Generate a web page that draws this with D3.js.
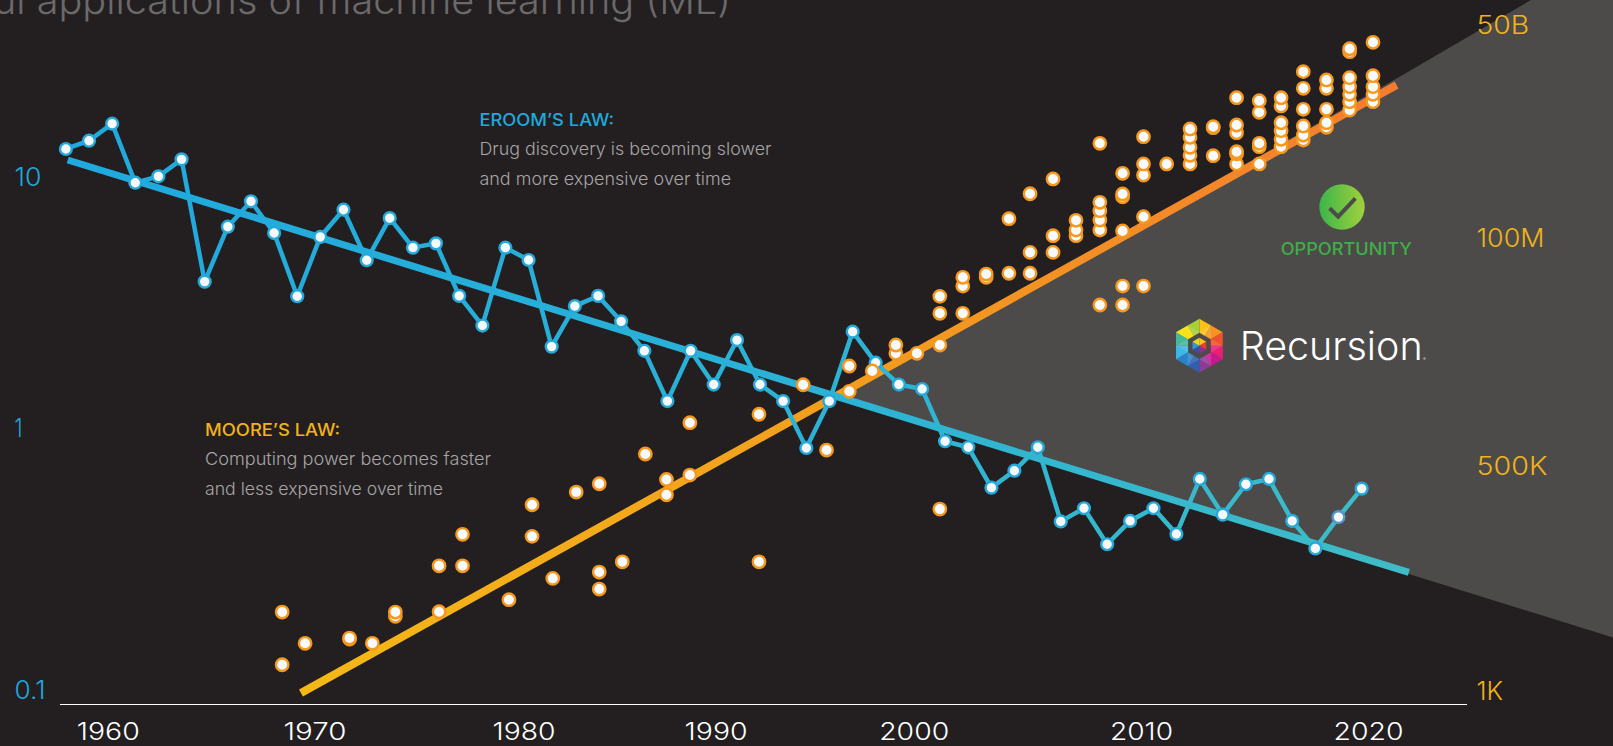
<!DOCTYPE html>
<html>
<head>
<meta charset="utf-8">
<script src="https://cdn.jsdelivr.net/npm/d3@7"></script>
<style>
html,body{margin:0;padding:0;background:#231f20;overflow:hidden}
svg{display:block}
text{font-family:"Inter","Lato","Open Sans",sans-serif}
.axis path,.axis line{display:none}
</style>
</head>
<body>
<svg id="chart" width="1613" height="746"></svg>
<script>
// ---------- tick labels ----------
const xTickYears = [1960,1970,1980,1990,2000,2010,2020];
const xTickPlaces = [107.8,314.4,523.6,715.6,913.7,1141,1368];
const eroomTicks = [10,1,0.1];
const eroomTickLabels = ["10","1","0.1"];
const mooreTicks = [1e3,5e5,1e8,5e10];
const mooreTickLabels = ["1K","500K","100M","50B"];

// ---------- Eroom's law: drugs per unit R&D spend ----------
const eroomYears = [1957.97,1959.09,1960.21,1961.33,1962.45,1963.57,1964.69,1965.81,1966.93,1968.05,1969.17,
 1970.28,1971.39,1972.50,1973.60,1974.71,1975.81,1976.92,1978.03,1979.13,
 1980.26,1981.46,1982.67,1983.88,1985.08,1986.29,1987.49,1988.70,1989.90,
 1991.08,1992.24,1993.41,1994.58,1995.74,1996.92,1998.08,1999.25,
 2000.37,2001.38,2002.40,2003.42,2004.43,2005.46,2006.47,2007.49,2008.51,2009.52,
 2010.55,2011.56,2012.59,2013.60,2014.62,2015.64,2016.66,2017.68,2018.70,2019.72];
const eroomValues = [12.93,13.95,16.31,9.49,10.06,11.76,3.83,6.34,8.00,5.98,3.35,
 5.77,7.41,4.66,6.86,5.23,5.44,3.36,2.56,5.23,
 4.67,2.11,3.06,3.36,2.66,2.03,1.28,2.03,1.49,
 2.24,1.49,1.28,0.839,1.28,2.42,1.82,1.49,
 1.43,0.890,0.844,0.592,0.687,0.844,0.440,0.494,0.360,0.442,
 0.494,0.394,0.639,0.467,0.610,0.639,0.442,0.347,0.457,0.587];
const eroomTrendYears = [1958.06,2021.80];
const eroomTrendValues = [11.69,0.281];

// ---------- Moore's law: log10 of transistor count, grouped by year column ----------
const mooreYears = [1968.44,1969.55,1971.68,1972.77,1973.87,1975.96,1977.08,1979.30,1980.44,1981.52,1982.74,1983.94,
 1985.14,1986.34,1987.44,1988.66,1992.19,1994.42,1995.60,1996.75,1997.91,1999.10,2000.14,2001.15,2002.16,2003.19,
 2004.19,2005.12,2006.13,2007.14,2008.19,2009.19,2010.11,2011.13,2012.16,2013.18,2014.21,2015.21,2016.17,2017.15,
 2018.17,2019.19,2020.22];
const mooreLogCounts = [
 [3.315,3.947],[3.572],[3.624,3.635],[3.572],[3.896,3.947],[3.951,4.502],[4.502,4.879],[4.095],[4.855,5.234],[4.351],[5.386],[4.223,4.427,5.486],
 [4.550],[5.820],[5.354,5.538],[5.590,6.136],[4.550,6.221],[6.519],[5.860],[6.453,6.708],[6.658],[6.836,6.920],[6.836],[5.182,6.920,7.240,7.411],
 [7.240,7.515,7.603],[7.603,7.636],[7.644,8.245],[7.644,7.855,8.561],[7.855,8.029,8.748],[8.029,8.101,8.224],
 [7.324,8.101,8.228,8.346,8.452,9.200],[7.324,7.515,8.089,8.523,8.558,8.820],[7.515,8.270,8.798,8.938,9.284],[8.938],
 [8.938,9.048,9.150,9.276,9.382],[9.043,9.398,9.411],[8.938,9.065,9.094,9.335,9.432,9.778],[8.938,9.157,9.200,9.593,9.740],
 [9.157,9.251,9.360,9.461,9.673,9.778],[9.242,9.305,9.420,9.631,9.897,10.108],[9.403,9.461,9.631,9.897,10.003],
 [9.622,9.727,9.821,9.918,10.032,10.361,10.399],[9.727,9.821,9.918,10.057,10.480]];
const mooreTrendYears = [1969.35,2021.26];
const mooreTrendLogCounts = [2.976,9.939];

// ---------- opportunity wedge (year, log10 count) ----------
const wedgeYears = [1996.06,2021.26,2027.18,2032,2032,2021.80];
const wedgeLogCounts = [6.405,10.02,11.016,11.016,3.54,4.403];

// ---------- text ----------
const titleText = "ul applications of machine learning (ML)";
const eroomNote = ["EROOM\u2019S LAW:","Drug discovery is becoming slower","and more expensive over time"];
const mooreNote = ["MOORE\u2019S LAW:","Computing power becomes faster","and less expensive over time"];

// ---------- scales ----------
const W = 1613, H = 746;
const x = d3.scaleLinear().domain(xTickYears).range(xTickPlaces);
const yEroom = d3.scaleLog().domain([0.1,1,10]).range([690,428,177]);
const yMoore = d3.scaleLinear().domain(mooreTicks.map(Math.log10)).range([691,466,238,25]);

const svg = d3.select("#chart");
const bg = "#231f20", wedgeFill = "#4c4b49";
svg.append("rect").attr("width",W).attr("height",H).attr("fill",bg);

const defs = svg.append("defs");
function grad(id,x1,x2,stops){
  const g = defs.append("linearGradient").attr("id",id).attr("gradientUnits","userSpaceOnUse")
    .attr("x1",x1).attr("x2",x2).attr("y1",0).attr("y2",0);
  stops.forEach(s=>g.append("stop").attr("offset",s[0]).attr("stop-color",s[1]));
}
const x0 = x(1958), x1 = x(2022);
grad("eroomGrad",x0,x1,[[0,"#1fa9de"],[0.55,"#2bb2d6"],[1,"#3fbcc6"]]);
grad("mooreGrad",x(1969),x1,[[0,"#f4b916"],[0.55,"#f39a1f"],[1,"#f47b30"]]);
grad("checkGrad",1319,1365,[[0,"#3bb54a"],[1,"#a2d03c"]]);

// title
svg.append("text").attr("x",731).attr("y",13.5).attr("text-anchor","end")
  .attr("fill","#6b6a6a").attr("font-size",38).attr("font-weight",300)
  .attr("textLength",738).attr("lengthAdjust","spacingAndGlyphs").text(titleText);

// wedge
svg.append("path").attr("fill",wedgeFill)
  .attr("d",d3.line().x(d=>x(d[0])).y(d=>yMoore(d[1]))(d3.zip(wedgeYears,wedgeLogCounts))+"Z");

// trends
const mooreLine = d3.line().x(d=>x(d[0])).y(d=>yMoore(d[1]));
const eroomLine = d3.line().x(d=>x(d[0])).y(d=>yEroom(d[1]));
svg.append("path").attr("fill","none").attr("stroke","url(#mooreGrad)").attr("stroke-width",8)
  .attr("d",mooreLine(d3.zip(mooreTrendYears,mooreTrendLogCounts)));
svg.append("path").attr("fill","none").attr("stroke","url(#eroomGrad)").attr("stroke-width",7)
  .attr("d",eroomLine(d3.zip(eroomTrendYears,eroomTrendValues)));

// eroom series
const eroomData = d3.zip(eroomYears,eroomValues);
svg.append("path").attr("fill","none").attr("stroke","url(#eroomGrad)").attr("stroke-width",4.5)
  .attr("stroke-linejoin","miter").attr("d",eroomLine(eroomData));
svg.append("g").selectAll("circle").data(eroomData).join("circle")
  .attr("cx",d=>x(d[0])).attr("cy",d=>yEroom(d[1])).attr("r",5.9)
  .attr("fill","#f4f8fa").attr("stroke",d=>d[0]>2018&&d[0]<2019?"#5595cf":"#25a9da").attr("stroke-width",2.4);

// moore points (lowest first so the upper ones overlap)
const moorePts = mooreYears.flatMap((yr,i)=>mooreLogCounts[i].map(v=>[yr,v]));
svg.append("g").selectAll("circle").data(moorePts).join("circle")
  .attr("cx",d=>x(d[0])).attr("cy",d=>yMoore(d[1])).attr("r",6.2)
  .attr("fill","#f7f9fa").attr("stroke","#f6981e").attr("stroke-width",2.4);

// baseline
svg.append("line").attr("x1",60).attr("x2",1467).attr("y1",704.5).attr("y2",704.5)
  .attr("stroke","#fff").attr("stroke-width",1.2);

// axes
const sizeText = (sel,widths)=>sel.attr("textLength",(d,i)=>widths[i]).attr("lengthAdjust","spacingAndGlyphs");
const xAxis = svg.append("g").attr("class","axis").attr("transform","translate(0,724)")
  .call(d3.axisBottom(x).tickValues(xTickYears).tickFormat(d3.format("d")).tickSize(0).tickPadding(0));
xAxis.selectAll("text").attr("fill","#fff").attr("font-size",24).attr("font-weight",300)
  .attr("y",0).attr("dy","16.2").call(sizeText,[63,63,63,63,70,63,70]);

const leftAxis = svg.append("g").attr("class","axis")
  .call(d3.axisRight(yEroom).tickValues(eroomTicks).tickFormat((d,i)=>eroomTickLabels[i]).tickSize(0).tickPadding(0));
leftAxis.selectAll("text").attr("x",14.5).attr("fill","#1ea8dd").attr("font-size",25).attr("font-weight",300)
  .attr("text-anchor","start").call(sizeText,[27,8,31]);

const rightAxis = svg.append("g").attr("class","axis")
  .call(d3.axisRight(yMoore).tickValues(mooreTicks.map(Math.log10)).tickFormat((d,i)=>mooreTickLabels[i]).tickSize(0).tickPadding(0));
rightAxis.selectAll("text").attr("x",1476.5).attr("fill","#f0b31a").attr("font-size",25).attr("font-weight",300)
  .attr("text-anchor","start").call(sizeText,[26.5,71,68,52.7]);

// notes
function note(lines,px,ys,col,widths){
  lines.forEach((t,i)=>svg.append("text").attr("x",px).attr("y",ys[i])
    .attr("fill",i?"#a6a5a5":col).attr("font-size",i?17.5:17)
    .attr("font-weight",i?300:500).attr("textLength",widths[i]).attr("lengthAdjust","spacingAndGlyphs").text(t));
}
note(eroomNote,479.4,[126,155,185],"#1fa9de",[134.6,292,251.7]);
note(mooreNote,205,[436.3,465.3,495.3],"#f2b318",[135,286,238]);

// opportunity badge
svg.append("circle").attr("cx",1342).attr("cy",207).attr("r",22.7).attr("fill","url(#checkGrad)");
svg.append("path").attr("d","M1329.6,208.3L1338.2,216.7L1355.4,198.3").attr("fill","none")
  .attr("stroke",wedgeFill).attr("stroke-width",4);
svg.append("text").attr("x",1280.7).attr("y",254.7)
  .attr("fill","#3fae49").attr("font-size",17).attr("font-weight",500)
  .attr("textLength",131.3).attr("lengthAdjust","spacingAndGlyphs").text("OPPORTUNITY");

// Recursion logo
const logo = svg.append("g").attr("transform","translate(1199.4,345.7)");
const hex = (r,k)=>{const a=(-90+60*k)*Math.PI/180;return [r*Math.cos(a),r*Math.sin(a)];};
const mid = (p,q)=>[(p[0]+q[0])/2,(p[1]+q[1])/2];
const ringCols = ["#fbc118","#f79420","#f0522f","#e81f76","#c6198f","#8e3b97","#2f5fae","#2a83c7","#3cb7e6","#45b89a","#45b54a","#a8cf38"];
const R = 27;
d3.range(6).forEach(k=>{
  const a = hex(R,k), b = hex(R,k+1), m = mid(a,b);
  logo.append("path").attr("d",d3.line()([[0,0],a,m])).attr("fill",ringCols[2*k]);
  logo.append("path").attr("d",d3.line()([[0,0],m,b])).attr("fill",ringCols[2*k+1]);
  logo.append("path").attr("d",d3.line()([mid(a,[0,0]),mid(b,[0,0]),m])).attr("fill","#fff").attr("opacity",0.12);
});
logo.append("path").attr("fill","#f7e21a").attr("d",d3.line()([[0,0],hex(R,5),mid(hex(R,5),hex(R,6))]));
logo.append("path").attr("fill",wedgeFill).attr("d",d3.line()(d3.range(6).map(k=>hex(13,k)))+"Z");
const innerCols = ["#f7c51c","#ee3a35","#8e2f8f","#3a4fa0","#2f9ad6","#e6d81f"];
d3.range(6).forEach(k=>logo.append("path").attr("fill",innerCols[k]).attr("d",d3.line()([[0,0],hex(8,k),hex(8,k+1)])));
svg.append("text").attr("x",1239.7).attr("y",360).attr("fill","#fff").attr("font-size",39).attr("font-weight",300)
  .attr("textLength",183).attr("lengthAdjust","spacingAndGlyphs").text("Recursion");
svg.append("circle").attr("cx",1424.5).attr("cy",358.5).attr("r",1.3).attr("fill","#9a9a9a");
</script>
</body>
</html>
